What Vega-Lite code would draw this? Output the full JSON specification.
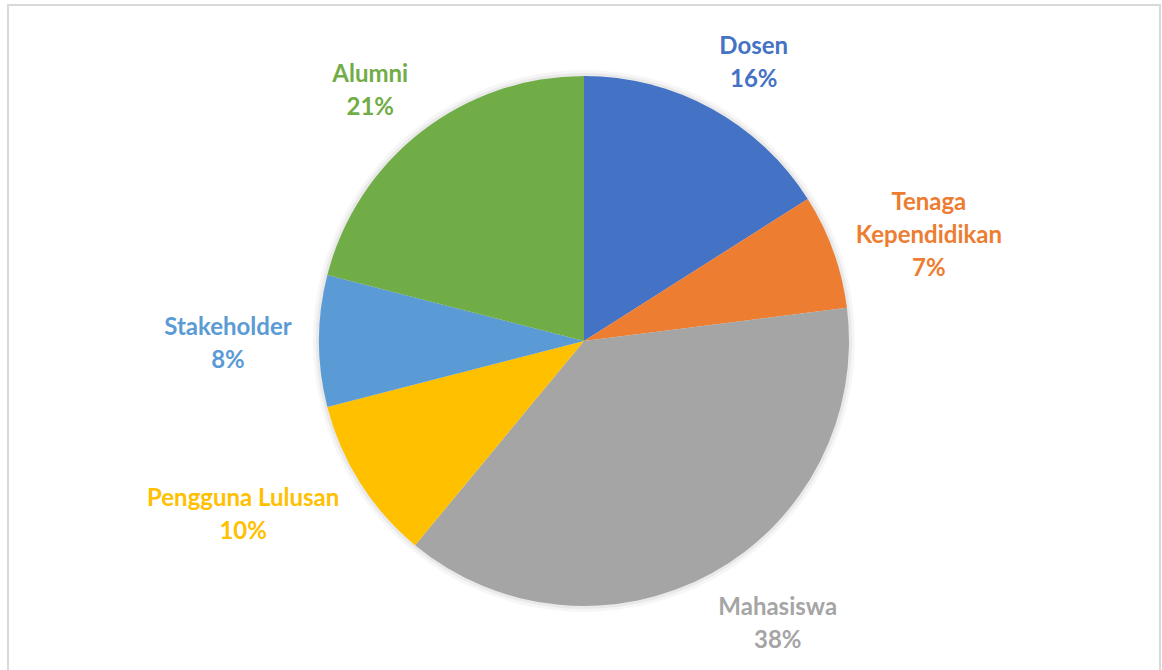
{
  "$schema": "https://vega.github.io/schema/vega-lite/v6.json",
  "autosize": "none",
  "width": 1152,
  "height": 672,
  "padding": {"left": 8, "top": 5, "right": 2, "bottom": -7},
  "background": "white",
  "view": {"stroke": "#D9D9D9", "strokeWidth": 2, "fill": null},
  "data": {
    "values": [
      {"idx": 1, "category": "Dosen", "value": 16, "label": "Dosen\n16%"},
      {"idx": 2, "category": "Tenaga Kependidikan", "value": 7, "label": "Tenaga\nKependidikan\n7%"},
      {"idx": 3, "category": "Mahasiswa", "value": 38, "label": "Mahasiswa\n38%"},
      {"idx": 4, "category": "Pengguna Lulusan", "value": 10, "label": "Pengguna Lulusan\n10%"},
      {"idx": 5, "category": "Stakeholder", "value": 8, "label": "Stakeholder\n8%"},
      {"idx": 6, "category": "Alumni", "value": 21, "label": "Alumni\n21%"}
    ]
  },
  "encoding": {
    "theta": {"field": "value", "type": "quantitative", "stack": true},
    "order": {"field": "idx", "type": "quantitative", "sort": "ascending"},
    "color": {
      "field": "category",
      "type": "nominal",
      "legend": null,
      "scale": {
        "domain": ["Dosen", "Tenaga Kependidikan", "Mahasiswa", "Pengguna Lulusan", "Stakeholder", "Alumni"],
        "range": ["#4472C4", "#ED7D31", "#A5A5A5", "#FFC000", "#5B9BD5", "#70AD47"]
      }
    }
  },
  "layer": [
    {
      "mark": {"type": "arc", "outerRadius": 271, "fill": "#000000", "fillOpacity": 0.035, "stroke": null}
    },
    {
      "mark": {"type": "arc", "outerRadius": 268, "fill": "#000000", "fillOpacity": 0.05, "stroke": null}
    },
    {
      "mark": {"type": "arc", "outerRadius": 265, "stroke": null}
    },
    {
      "transform": [
        {"joinaggregate": [{"op": "sum", "field": "value", "as": "total"}]},
        {"window": [{"op": "sum", "field": "value", "as": "cum"}], "sort": [{"field": "idx"}], "frame": [null, 0]},
        {"calculate": "2 * PI * (datum.cum - datum.value / 2) / datum.total", "as": "midAngle"},
        {"calculate": "split(datum.label, '\\n')", "as": "lines"},
        {"calculate": "max(length(datum.lines[0]), length(datum.lines[1]))", "as": "maxLen"},
        {"calculate": "length(datum.lines)", "as": "nLines"}
      ],
      "mark": {
        "type": "text",
        "radius": 290,
        "font": "Lato",
        "fontWeight": "bold",
        "fontSize": 24,
        "lineBreak": "\n",
        "lineHeight": 33,
        "align": "center",
        "baseline": "middle",
        "dx": {"expr": "(sin(datum.midAngle) > 0.3 ? 1 : (sin(datum.midAngle) < -0.3 ? -1 : 0)) * 6 * datum.maxLen"},
        "dy": {"expr": "3 - (datum.nLines - 1) * 16.5 - 30 * cos(datum.midAngle)"}
      },
      "encoding": {"text": {"field": "label", "type": "nominal"}}
    }
  ]
}
